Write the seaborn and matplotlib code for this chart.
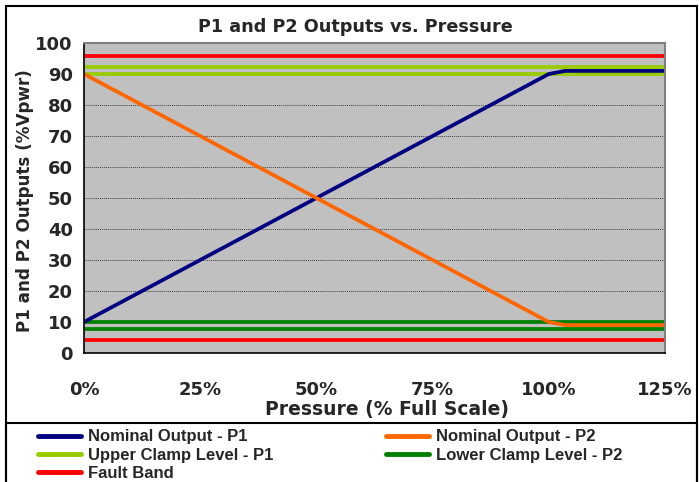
import matplotlib
matplotlib.use("Agg")
import matplotlib.pyplot as plt
from matplotlib.lines import Line2D
from matplotlib.patches import Rectangle
from matplotlib.ticker import FuncFormatter
import seaborn as sns
import pandas as pd

# ---- data ----
pressure = [0, 100, 103.5, 125]
nominal_p1 = [10, 90, 91, 91]
nominal_p2 = [90, 10, 9, 9]
level_x = [0, 125]
upper_clamp_p1 = [92.3, 90.0]
lower_clamp_p2 = [10.0, 7.7]
fault_band = [95.8, 4.2]
x_ticks = [0, 25, 50, 75, 100, 125]
y_ticks = [0, 10, 20, 30, 40, 50, 60, 70, 80, 90, 100]

colors = {"Nominal Output - P1": "#000080", "Nominal Output - P2": "#FF6600",
          "Upper Clamp Level - P1": "#99CC00", "Lower Clamp Level - P2": "#008000",
          "Fault Band": "#FF0000"}

rows = []
for x, y in zip(pressure, nominal_p1):
    rows.append(("Nominal Output - P1", "p1", x, y))
for x, y in zip(pressure, nominal_p2):
    rows.append(("Nominal Output - P2", "p2", x, y))
for name, levels in [("Upper Clamp Level - P1", upper_clamp_p1),
                     ("Lower Clamp Level - P2", lower_clamp_p2),
                     ("Fault Band", fault_band)]:
    for j, v in enumerate(levels):
        for x in level_x:
            rows.append((name, f"{name}-{j}", x, v))
df = pd.DataFrame(rows, columns=["series", "line", "x", "y"])

sns.set_theme(style="white")
plt.rcParams["font.family"] = ["DejaVu Sans"]

fig = plt.figure(figsize=(6.99, 4.82), dpi=100)
W, H = 699, 482
ax = fig.add_axes([84 / W, 1 - 353 / H, (665 - 84) / W, (353 - 43) / H])
ax.set_facecolor("#C0C0C0")

for name in ["Fault Band", "Upper Clamp Level - P1", "Lower Clamp Level - P2",
             "Nominal Output - P1", "Nominal Output - P2"]:
    sub = df[df["series"] == name]
    sns.lineplot(data=sub, x="x", y="y", units="line", estimator=None,
                 color=colors[name], linewidth=2.7, ax=ax, legend=False,
                 sort=False, solid_capstyle="butt")

ax.set_xlim(0, 125)
ax.set_ylim(0, 100)
ax.set_xticks(x_ticks)
ax.set_yticks(y_ticks)
ax.xaxis.set_major_formatter(FuncFormatter(lambda v, p: f"{v:.0f}%"))
ax.yaxis.grid(True, color="#404040", linestyle=(0, (1, 1)), linewidth=0.7)
ax.xaxis.grid(False)
ax.set_axisbelow(True)
for s in ["top", "right"]:
    ax.spines[s].set_color("#808080")
    ax.spines[s].set_linewidth(1.5)
for s in ["left", "bottom"]:
    ax.spines[s].set_color("black")
    ax.spines[s].set_linewidth(1.2)
ax.tick_params(axis="both", which="major", direction="out", length=6, width=1.2,
               color="black", labelsize=13, pad=2)
ax.tick_params(axis="x", pad=14)
for lab in ax.get_xticklabels() + ax.get_yticklabels():
    lab.set_fontweight("bold")
ax.set_xlabel("")
ax.set_ylabel("")

fig.text(355 / W, 1 - 27 / H, "P1 and P2 Outputs vs. Pressure", ha="center",
         va="center", fontsize=12.7, fontweight="bold")
fig.text(387 / W, 1 - 410 / H, "Pressure (% Full Scale)", ha="center",
         va="center", fontsize=13.5, fontweight="bold")
fig.text(25 / W, 1 - 201 / H, "P1 and P2 Outputs (%Vpwr)", ha="center",
         va="center", rotation=90, fontsize=12.1, fontweight="bold")

# borders
fig.patches.append(Rectangle((6 / W, -0.1), (697 - 6) / W, (482 - 6) / H + 0.1,
                             transform=fig.transFigure, fill=False,
                             edgecolor="black", linewidth=1.5))
fig.patches.append(Rectangle((6 / W, -0.1), (697 - 6) / W, (482 - 423) / H + 0.1,
                             transform=fig.transFigure, fill=False,
                             edgecolor="black", linewidth=1.5))

leg_font = {"family": ["Liberation Sans"], "weight": "bold", "size": 12}

def make_handles(names):
    return [Line2D([0], [0], color=colors[n], linewidth=3.5) for n in names]

col1 = ["Nominal Output - P1", "Upper Clamp Level - P1", "Fault Band"]
col2 = ["Nominal Output - P2", "Lower Clamp Level - P2"]
for names, xpos in [(col1, 38), (col2, 386)]:
    fig.legend(make_handles(names), names, loc="upper left",
               bbox_to_anchor=(xpos / W, 1 - 429.5 / H), frameon=False,
               prop=leg_font, handlelength=2.6, handletextpad=0.4,
               labelspacing=0.2, borderpad=0, borderaxespad=0)

fig.savefig("out.png", dpi=100)
